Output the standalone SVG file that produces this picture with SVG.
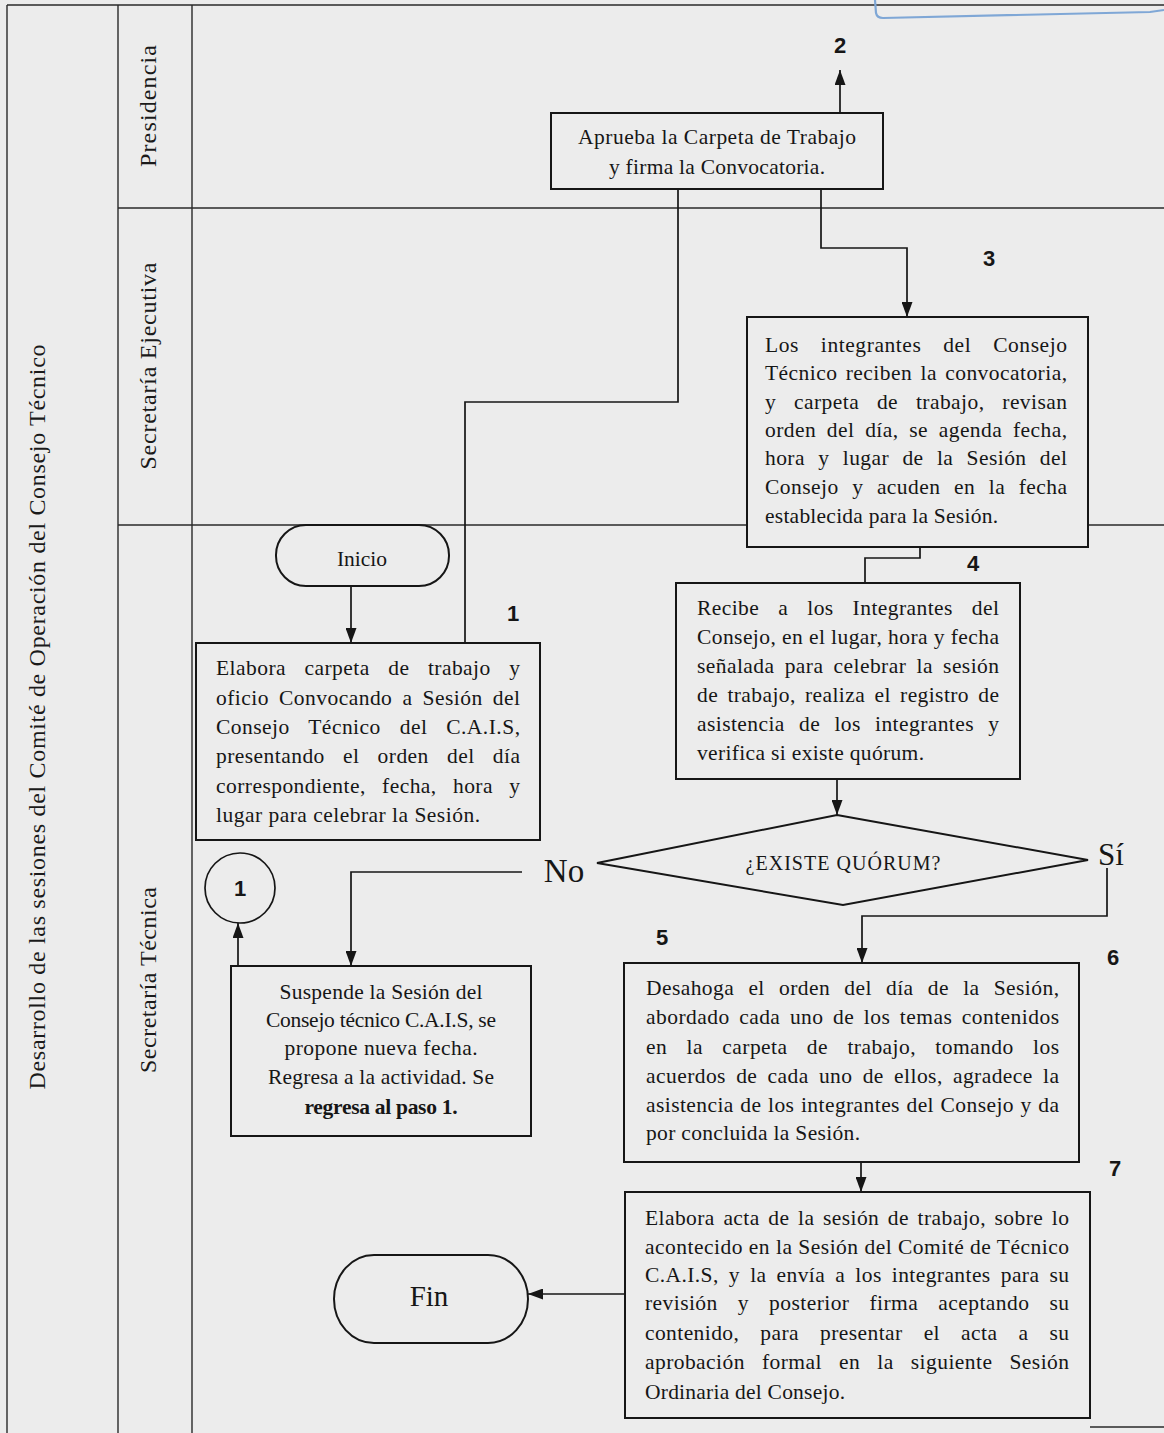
<svg xmlns="http://www.w3.org/2000/svg" width="1164" height="1433" viewBox="0 0 1164 1433">
<style>
.bg{fill:#ececec}
.grid{stroke:#2a2a2a;stroke-width:1.4;fill:none}
.box{fill:#ececec;stroke:#161616;stroke-width:2}
.conn{fill:none;stroke:#161616;stroke-width:1.7}
.t{font-family:"Liberation Serif","Times New Roman",serif;font-size:21.5px;fill:#161616}
.lane{font-family:"Liberation Serif","Times New Roman",serif;font-size:24px;fill:#1a1a1a}
.num{font-family:"Liberation Sans",Arial,sans-serif;font-weight:bold;font-size:22px;fill:#161616;text-anchor:middle}
.mid{text-anchor:middle}
</style>
<defs>
<marker id="ah" viewBox="0 0 15 11" refX="15" refY="5.5" markerWidth="15" markerHeight="11" markerUnits="userSpaceOnUse" orient="auto">
<path d="M0,0 L15,5.5 L0,11 z" fill="#161616"/>
</marker>
</defs>
<rect class="bg" x="0" y="0" width="1164" height="1433"/>

<g id="frame">
<line class="grid" x1="7" y1="5" x2="1164" y2="5"/>
<line class="grid" x1="7" y1="5" x2="7" y2="1433"/>
<line class="grid" x1="118" y1="5" x2="118" y2="1433"/>
<line class="grid" x1="192" y1="5" x2="192" y2="1433"/>
<line class="grid" x1="118" y1="208" x2="1164" y2="208"/>
<line class="grid" x1="118" y1="525" x2="1164" y2="525"/>
<line class="grid" x1="1090" y1="1427" x2="1164" y2="1427"/>
<path d="M875,0 L876,13 Q877,18 883,18 L1150,12 L1164,10" fill="none" stroke="#7fa7d6" stroke-width="2.2"/>
<text class="lane mid" transform="translate(45,717) rotate(-90)" textLength="745" lengthAdjust="spacing">Desarrollo de las sesiones del Comité de Operación del Consejo Técnico</text>
<text class="lane mid" transform="translate(156,106) rotate(-90)" textLength="122" lengthAdjust="spacing">Presidencia</text>
<text class="lane mid" transform="translate(156,366) rotate(-90)" textLength="207" lengthAdjust="spacing">Secretaría Ejecutiva</text>
<text class="lane mid" transform="translate(156,980) rotate(-90)" textLength="186" lengthAdjust="spacing">Secretaría Técnica</text>
</g>

<g id="connectors">
<line class="conn" x1="351" y1="586" x2="351" y2="643" marker-end="url(#ah)"/>
<polyline class="conn" points="465,643 465,402 678,402 678,189"/>
<line class="conn" x1="840" y1="113" x2="840" y2="70" marker-end="url(#ah)"/>
<polyline class="conn" points="821,189 821,248 907,248 907,317" marker-end="url(#ah)"/>
<polyline class="conn" points="920,547 920,558 865,558 865,583"/>
<line class="conn" x1="837" y1="779" x2="837" y2="815" marker-end="url(#ah)"/>
<polyline class="conn" points="1107,868 1107,916 862,916 862,963" marker-end="url(#ah)"/>
<polyline class="conn" points="522,872 351,872 351,966" marker-end="url(#ah)"/>
<line class="conn" x1="238" y1="966" x2="238" y2="923" marker-end="url(#ah)"/>
<line class="conn" x1="861" y1="1162" x2="861" y2="1192" marker-end="url(#ah)"/>
<line class="conn" x1="625" y1="1294" x2="528" y2="1294" marker-end="url(#ah)"/>
</g>

<g id="n2">
<rect class="box" x="551" y="113" width="332" height="76"/>
<text class="t mid" x="717" y="144" textLength="278" lengthAdjust="spacing">Aprueba la Carpeta de Trabajo</text>
<text class="t mid" x="717" y="174" textLength="216" lengthAdjust="spacing">y firma la Convocatoria.</text>
<text class="num" x="840" y="53">2</text>
</g>

<g id="n3">
<rect class="box" x="747" y="317" width="341" height="230"/>
<text class="t" x="765" y="352" textLength="302" lengthAdjust="spacing" style="word-spacing:16px">Los integrantes del Consejo</text>
<text class="t" x="765" y="380" textLength="302" lengthAdjust="spacing" style="word-spacing:2.5px">Técnico reciben la convocatoria,</text>
<text class="t" x="765" y="409" textLength="302" lengthAdjust="spacing" style="word-spacing:12px">y carpeta de trabajo, revisan</text>
<text class="t" x="765" y="437" textLength="302" lengthAdjust="spacing" style="word-spacing:4.9px">orden del día, se agenda fecha,</text>
<text class="t" x="765" y="465" textLength="302" lengthAdjust="spacing" style="word-spacing:7.5px">hora y lugar de la Sesión del</text>
<text class="t" x="765" y="494" textLength="302" lengthAdjust="spacing" style="word-spacing:7.7px">Consejo y acuden en la fecha</text>
<text class="t" x="765" y="523" textLength="233" lengthAdjust="spacing">establecida para la Sesión.</text>
<text class="num" x="989" y="266">3</text>
</g>

<g id="inicio">
<rect class="box" x="276" y="525" width="173" height="61" rx="30" ry="30"/>
<text class="t mid" x="362" y="566">Inicio</text>
</g>

<g id="n1">
<rect class="box" x="196" y="643" width="344" height="197"/>
<text class="t" x="216" y="675" textLength="304" lengthAdjust="spacing" style="word-spacing:12.7px">Elabora carpeta de trabajo y</text>
<text class="t" x="216" y="705" textLength="304" lengthAdjust="spacing" style="word-spacing:4.3px">oficio Convocando a Sesión del</text>
<text class="t" x="216" y="734" textLength="304" lengthAdjust="spacing" style="word-spacing:13px">Consejo Técnico del C.A.I.S,</text>
<text class="t" x="216" y="763" textLength="304" lengthAdjust="spacing" style="word-spacing:12.4px">presentando el orden del día</text>
<text class="t" x="216" y="793" textLength="304" lengthAdjust="spacing" style="word-spacing:10.5px">correspondiente, fecha, hora y</text>
<text class="t" x="216" y="822" textLength="264" lengthAdjust="spacing">lugar para celebrar la Sesión.</text>
<text class="num" x="513" y="621">1</text>
</g>

<g id="n4">
<rect class="box" x="676" y="583" width="344" height="196"/>
<text class="t" x="697" y="615" textLength="302" lengthAdjust="spacing" style="word-spacing:13.2px">Recibe a los Integrantes del</text>
<text class="t" x="697" y="644" textLength="302" lengthAdjust="spacing">Consejo, en el lugar, hora y fecha</text>
<text class="t" x="697" y="673" textLength="302" lengthAdjust="spacing" style="word-spacing:4.4px">señalada para celebrar la sesión</text>
<text class="t" x="697" y="702" textLength="302" lengthAdjust="spacing" style="word-spacing:3.5px">de trabajo, realiza el registro de</text>
<text class="t" x="697" y="731" textLength="302" lengthAdjust="spacing" style="word-spacing:8.5px">asistencia de los integrantes y</text>
<text class="t" x="697" y="760" textLength="227" lengthAdjust="spacing">verifica si existe quórum.</text>
<text class="num" x="973" y="571">4</text>
</g>

<g id="decision">
<polygon class="box" points="837,815 1088,860 843,905 597,863"/>
<text class="t mid" x="843" y="870" style="font-size:20px" textLength="195" lengthAdjust="spacing">¿EXISTE QUÓRUM?</text>
<text class="t mid" x="1111" y="865" style="font-size:31px">Sí</text>
<text class="t mid" x="564" y="882" style="font-size:33px">No</text>
</g>

<g id="c1">
<circle cx="240" cy="888" r="35" fill="#ececec" stroke="#161616" stroke-width="1.7"/>
<text class="num" x="240" y="896">1</text>
</g>

<g id="n6">
<rect class="box" x="231" y="966" width="300" height="170"/>
<text class="t mid" x="381" y="999" textLength="203" lengthAdjust="spacing">Suspende la Sesión del</text>
<text class="t mid" x="381" y="1027" textLength="230" lengthAdjust="spacing">Consejo técnico C.A.I.S, se</text>
<text class="t mid" x="381" y="1055" textLength="193" lengthAdjust="spacing">propone nueva fecha.</text>
<text class="t mid" x="381" y="1084" textLength="226" lengthAdjust="spacing">Regresa a la actividad. Se</text>
<text class="t mid" x="381" y="1114" textLength="153" lengthAdjust="spacing" style="font-weight:bold">regresa al paso 1.</text>
</g>

<g id="n5">
<rect class="box" x="624" y="963" width="455" height="199"/>
<text class="t" x="646" y="995" textLength="413" lengthAdjust="spacing" style="word-spacing:8.4px">Desahoga el orden del día de la Sesión,</text>
<text class="t" x="646" y="1024" textLength="413" lengthAdjust="spacing" style="word-spacing:3.7px">abordado cada uno de los temas contenidos</text>
<text class="t" x="646" y="1054" textLength="413" lengthAdjust="spacing" style="word-spacing:13.6px">en la carpeta de trabajo, tomando los</text>
<text class="t" x="646" y="1083" textLength="413" lengthAdjust="spacing" style="word-spacing:4.4px">acuerdos de cada uno de ellos, agradece la</text>
<text class="t" x="646" y="1112" textLength="413" lengthAdjust="spacing" style="word-spacing:0.8px">asistencia de los integrantes del Consejo y da</text>
<text class="t" x="646" y="1140" textLength="214" lengthAdjust="spacing">por concluida la Sesión.</text>
<text class="num" x="662" y="945">5</text>
<text class="num" x="1113" y="965">6</text>
</g>

<g id="n7">
<rect class="box" x="625" y="1192" width="465" height="226"/>
<text class="t" x="645" y="1225" textLength="424" lengthAdjust="spacing" style="word-spacing:2.8px">Elabora acta de la sesión de trabajo, sobre lo</text>
<text class="t" x="645" y="1254" textLength="424" lengthAdjust="spacing">acontecido en la Sesión del Comité de Técnico</text>
<text class="t" x="645" y="1282" textLength="424" lengthAdjust="spacing" style="word-spacing:4.3px">C.A.I.S, y la envía a los integrantes para su</text>
<text class="t" x="645" y="1310" textLength="424" lengthAdjust="spacing" style="word-spacing:14.3px">revisión y posterior firma aceptando su</text>
<text class="t" x="645" y="1340" textLength="424" lengthAdjust="spacing" style="word-spacing:15.3px">contenido, para presentar el acta a su</text>
<text class="t" x="645" y="1369" textLength="424" lengthAdjust="spacing" style="word-spacing:11.3px">aprobación formal en la siguiente Sesión</text>
<text class="t" x="645" y="1399" textLength="200" lengthAdjust="spacing">Ordinaria del Consejo.</text>
<text class="num" x="1115" y="1176">7</text>
</g>

<g id="fin">
<rect class="box" x="334" y="1255" width="194" height="88" rx="40" ry="44"/>
<text class="t mid" x="429" y="1306" style="font-size:29px">Fin</text>
</g>
</svg>
